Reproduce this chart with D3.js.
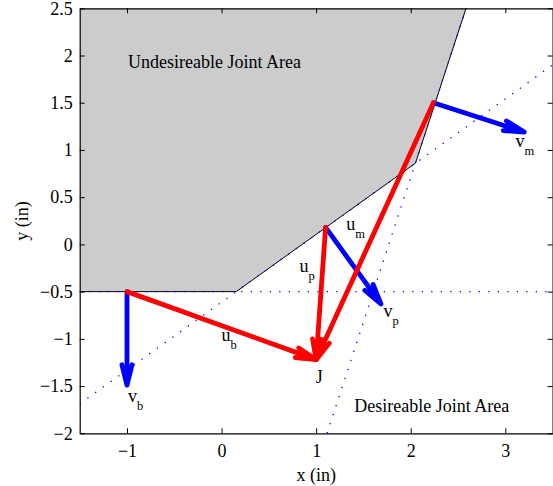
<!DOCTYPE html>
<html>
<head>
<meta charset="utf-8">
<script src="https://cdn.jsdelivr.net/npm/d3@7"></script>
<style>
  html, body { margin: 0; padding: 0; background: #fff; }
  svg { display: block; }
  text { font-family: "Liberation Serif", "Times New Roman", serif; fill: #000; }
</style>
</head>
<body>
<svg id="chart" width="553" height="486"></svg>
<script>
// ---- data ----
const xTicks = [-1, 0, 1, 2, 3];
const xTickLabels = ["\u22121", "0", "1", "2", "3"];
const yTicks = [-2, -1.5, -1, -0.5, 0, 0.5, 1, 1.5, 2, 2.5];
const yTickLabels = ["\u22122", "\u22121.5", "\u22121", "\u22120.5", "0", "0.5", "1", "1.5", "2", "2.5"];

// undesirable region polygon
const regionX = [-1.5, -1.5, 0.155, 2.05, 2.585];
const regionY = [2.5, -0.5, -0.5, 0.86, 2.5];

// constraint (dotted) lines: [x0, y0, x1, y1]
const constraintLines = [
  [-1.5, -0.5, 3.5, -0.5],
  [-1.5, -1.688, 3.5, 1.90],
  [1.115, -2.0, 2.585, 2.5]
];

// joint points
const pointNames = ["b", "p", "m", "J"];
const pointX = [-1.0, 1.10, 2.24, 1.0];
const pointY = [-0.5, 0.18, 1.5, -1.22];

// u vectors (red): from b, p, m to J
const uFrom = ["b", "p", "m"];
// v vectors (blue): normals, end points
const vFrom = ["b", "p", "m"];
const vEndX = [-1.0, 1.685, 3.20];
const vEndY = [-1.49, -0.63, 1.19];

// text annotations (data coords of baseline-left)
const labelMain = ["u", "v", "u", "u", "v", "v", "J", "Undesireable Joint Area", "Desireable Joint Area"];
const labelSub  = ["b", "b", "p", "m", "p", "m", "", "", ""];
const labelX = [0.0, -0.99, 0.824, 1.318, 1.712, 3.108, 0.997, -0.99, 1.403];
const labelY = [-1.023, -1.672, -0.295, 0.153, -0.772, 1.028, -1.464, 1.871, -1.771];

// ---- chart ----
const svg = d3.select("#chart");
const L = 79.7, R = 552.6, T = 8.3, B = 433.3;
const x = d3.scaleLinear().domain([-1.5, 3.5]).range([L, R]);
const y = d3.scaleLinear().domain([-2, 2.5]).range([B, T]);

svg.append("clipPath").attr("id", "clip").append("rect")
  .attr("x", L).attr("y", T).attr("width", R - L).attr("height", B - T);
const g = svg.append("g").attr("clip-path", "url(#clip)");

// region
const regionPts = regionX.map((d, i) => [x(d), y(regionY[i])]);
g.append("path")
  .attr("d", d3.line()(regionPts) + "Z")
  .attr("fill", "#cccccc").attr("stroke", "none");
g.append("path")
  .attr("d", d3.line()(regionPts.slice(1)))
  .attr("fill", "none").attr("stroke", "#000").attr("stroke-width", 1);

// dotted constraint lines
g.selectAll("line.c").data(constraintLines).enter().append("line")
  .attr("class", "c")
  .attr("x1", d => x(d[0])).attr("y1", d => y(d[1]))
  .attr("x2", d => x(d[2])).attr("y2", d => y(d[3]))
  .attr("stroke", "#0000ff").attr("stroke-width", 1.3)
  .attr("stroke-dasharray", "1.3,8.2");

function pt(name) {
  const i = pointNames.indexOf(name);
  return [pointX[i], pointY[i]];
}

function arrowPath(x0, y0, x1, y1) {
  const px0 = x(x0), py0 = y(y0), px1 = x(x1), py1 = y(y1);
  const ang = Math.atan2(py1 - py0, px1 - px0);
  const hl = 21, ha = 14 * Math.PI / 180;
  const b1 = [px1 - hl * Math.cos(ang - ha), py1 - hl * Math.sin(ang - ha)];
  const b2 = [px1 - hl * Math.cos(ang + ha), py1 - hl * Math.sin(ang + ha)];
  return `M${px0},${py0}L${px1},${py1}M${b1[0]},${b1[1]}L${px1},${py1}L${b2[0]},${b2[1]}`;
}

// blue v arrows
g.selectAll("path.v").data(vFrom).enter().append("path")
  .attr("class", "v")
  .attr("d", (d, i) => { const s = pt(d); return arrowPath(s[0], s[1], vEndX[i], vEndY[i]); })
  .attr("fill", "none").attr("stroke", "#0000ff").attr("stroke-width", 4.8)
  .attr("stroke-linejoin", "round").attr("stroke-linecap", "round");

// red u arrows
const J = pt("J");
g.selectAll("path.u").data(uFrom).enter().append("path")
  .attr("class", "u")
  .attr("d", d => { const s = pt(d); return arrowPath(s[0], s[1], J[0], J[1]); })
  .attr("fill", "none").attr("stroke", "#ff0000").attr("stroke-width", 4.8)
  .attr("stroke-linejoin", "round").attr("stroke-linecap", "round");

// labels
svg.selectAll("text.lab").data(labelMain).enter().append("text")
  .attr("class", "lab")
  .attr("x", (d, i) => x(labelX[i]))
  .attr("y", (d, i) => y(labelY[i]))
  .style("font-size", "18px")
  .each(function(d, i) {
    const t = d3.select(this);
    t.append("tspan").text(d);
    if (labelSub[i]) t.append("tspan").attr("dy", 8).style("font-size", "12.5px").text(labelSub[i]);
  });

// axes
const ax = svg.append("g");
ax.append("g").attr("transform", `translate(0,${B})`)
  .call(d3.axisBottom(x).tickValues(xTicks).tickFormat((d, i) => xTickLabels[i])
    .tickSizeInner(-5).tickSizeOuter(0).tickPadding(11));
ax.append("g").attr("transform", `translate(0,${T})`)
  .call(d3.axisTop(x).tickValues(xTicks).tickFormat("").tickSizeInner(-5).tickSizeOuter(0));
ax.append("g").attr("transform", `translate(${L},0)`)
  .call(d3.axisLeft(y).tickValues(yTicks).tickFormat((d, i) => yTickLabels[i])
    .tickSizeInner(-5).tickSizeOuter(0).tickPadding(7));
ax.append("g").attr("transform", `translate(${R},0)`)
  .call(d3.axisRight(y).tickValues(yTicks).tickFormat("").tickSizeInner(-5).tickSizeOuter(0));

ax.selectAll(".domain").attr("stroke", "#000").attr("stroke-width", 1.2);
ax.selectAll(".tick line").attr("stroke", "#000").attr("stroke-width", 1);
ax.selectAll(".tick text")
  .style("font-family", '"Liberation Serif", "Times New Roman", serif')
  .style("font-size", "18px").attr("fill", "#000");

// axis titles
svg.append("text")
  .attr("x", (L + R) / 2).attr("y", 481)
  .attr("text-anchor", "middle").style("font-size", "18px")
  .text("x (in)");
svg.append("text")
  .attr("transform", `translate(28,221) rotate(-90)`)
  .attr("text-anchor", "middle").style("font-size", "18px")
  .text("y (in)");
</script>
</body>
</html>
